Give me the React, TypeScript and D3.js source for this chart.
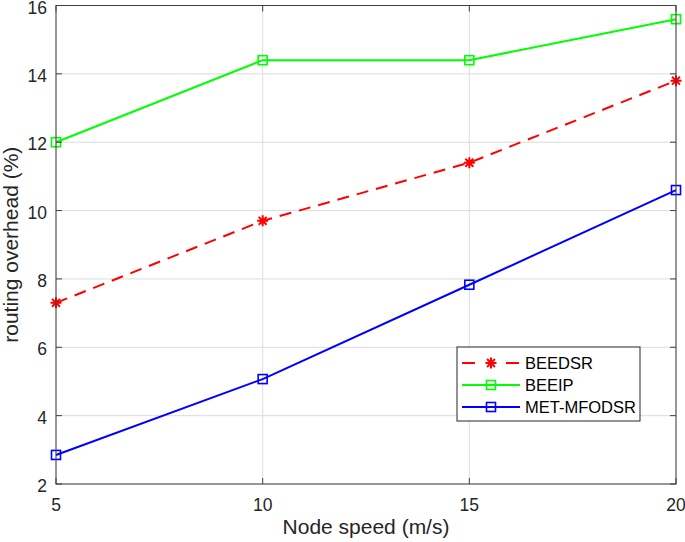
import React, { useEffect, useRef } from 'react';
import * as d3 from 'd3';

const speeds = [5, 10, 15, 20];
const beedsr = [7.3, 9.7, 11.4, 13.8];
const beeip = [12, 14.4, 14.4, 15.6];
const metMfodsr = [2.85, 5.07, 7.83, 10.6];
const xTicks = [5, 10, 15, 20];
const yTicks = [2, 4, 6, 8, 10, 12, 14, 16];

const series = [
  { name: 'BEEDSR', values: beedsr, color: '#ff0000', dash: '12,8', marker: 'star' },
  { name: 'BEEIP', values: beeip, color: '#00ff00', dash: null, marker: 'square' },
  { name: 'MET-MFODSR', values: metMfodsr, color: '#0000ff', dash: null, marker: 'square' },
];

const W = 685;
const H = 542;
const margin = { left: 56, right: 9, top: 5.5, bottom: 58 };

function drawMarker(g: any, kind: string, x: number, y: number, color: string) {
  if (kind === 'square') {
    g.append('rect')
      .attr('x', x - 4.5).attr('y', y - 4.5)
      .attr('width', 9).attr('height', 9)
      .attr('fill', 'none').attr('stroke', color).attr('stroke-width', 1.6);
  } else {
    const r = 5.5;
    const d = r * 0.72;
    const p = `M${x - r},${y}L${x + r},${y}M${x},${y - r}L${x},${y + r}` +
      `M${x - d},${y - d}L${x + d},${y + d}M${x - d},${y + d}L${x + d},${y - d}`;
    g.append('path').attr('d', p).attr('stroke', color).attr('stroke-width', 2).attr('fill', 'none');
  }
}

export default function App() {
  const ref = useRef<SVGSVGElement>(null);

  useEffect(() => {
    const svg = d3.select(ref.current);
    svg.selectAll('*').remove();

    const x = d3.scaleLinear().domain([5, 20]).range([margin.left, W - margin.right]);
    const y = d3.scaleLinear().domain([2, 16]).range([H - margin.bottom, margin.top]);
    const font = 'Liberation Sans, Arial, sans-serif';
    const axisColor = '#404040';

    svg.append('rect').attr('x', 0).attr('y', 0).attr('width', W).attr('height', H).attr('fill', '#fff');

    // grid
    const grid = svg.append('g');
    xTicks.forEach(t => {
      grid.append('line').attr('x1', x(t)).attr('x2', x(t))
        .attr('y1', y(2)).attr('y2', y(16)).attr('stroke', '#dcdcdc').attr('stroke-width', 1);
    });
    yTicks.forEach(t => {
      grid.append('line').attr('x1', x(5)).attr('x2', x(20))
        .attr('y1', y(t)).attr('y2', y(t)).attr('stroke', '#dcdcdc').attr('stroke-width', 1);
    });

    // series
    series.forEach(s => {
      const line = d3.line<number>().x((d, i) => x(speeds[i])).y(d => y(d));
      svg.append('path').datum(s.values).attr('d', line)
        .attr('fill', 'none').attr('stroke', s.color).attr('stroke-width', 2)
        .attr('stroke-dasharray', s.dash);
      const mg = svg.append('g');
      s.values.forEach((v, i) => drawMarker(mg, s.marker, x(speeds[i]), y(v), s.color));
    });

    // box and ticks
    const ax = svg.append('g');
    ax.append('rect').attr('x', x(5)).attr('y', y(16))
      .attr('width', x(20) - x(5)).attr('height', y(2) - y(16))
      .attr('fill', 'none').attr('stroke', axisColor).attr('stroke-width', 1);
    const tl = 6;
    yTicks.forEach(t => {
      ax.append('line').attr('x1', x(5)).attr('x2', x(5) + tl).attr('y1', y(t)).attr('y2', y(t)).attr('stroke', axisColor);
      ax.append('line').attr('x1', x(20)).attr('x2', x(20) - tl).attr('y1', y(t)).attr('y2', y(t)).attr('stroke', axisColor);
      ax.append('text').attr('x', x(5) - 9).attr('y', y(t)).attr('dy', '0.46em')
        .attr('text-anchor', 'end').attr('font-family', font).attr('font-size', 17.5).attr('fill', '#262626')
        .text(t);
    });
    xTicks.forEach(t => {
      ax.append('line').attr('x1', x(t)).attr('x2', x(t)).attr('y1', y(2)).attr('y2', y(2) - tl).attr('stroke', axisColor);
      ax.append('line').attr('x1', x(t)).attr('x2', x(t)).attr('y1', y(16)).attr('y2', y(16) + tl).attr('stroke', axisColor);
      ax.append('text').attr('x', x(t)).attr('y', y(2) + 20.5).attr('dy', '0.35em')
        .attr('text-anchor', 'middle').attr('font-family', font).attr('font-size', 17.5).attr('fill', '#262626')
        .text(t);
    });

    // axis titles
    svg.append('text').attr('x', (x(5) + x(20)) / 2).attr('y', 527).attr('dy', '0.35em')
      .attr('text-anchor', 'middle').attr('font-family', font).attr('font-size', 21).attr('fill', '#262626')
      .text('Node speed (m/s)');
    svg.append('text').attr('transform', `translate(11,${(y(2) + y(16)) / 2}) rotate(-90)`)
      .attr('dy', '0.35em').attr('text-anchor', 'middle').attr('font-family', font)
      .attr('font-size', 21).attr('fill', '#262626')
      .text('routing overhead (%)');

    // legend
    const lg = svg.append('g');
    lg.append('rect').attr('x', 457).attr('y', 347).attr('width', 183).attr('height', 74)
      .attr('fill', '#fff').attr('stroke', '#262626').attr('stroke-width', 1);
    series.forEach((s, i) => {
      const ly = 363 + i * 22;
      lg.append('line').attr('x1', 462).attr('x2', 520).attr('y1', ly).attr('y2', ly)
        .attr('stroke', s.color).attr('stroke-width', 2).attr('stroke-dasharray', s.dash ? '13,9' : null);
      if (s.dash) {
        lg.append('rect').attr('x', 480).attr('y', ly - 6).attr('width', 20).attr('height', 12).attr('fill', '#fff');
      }
      drawMarker(lg, s.marker, 491, ly, s.color);
      lg.append('text').attr('x', 525).attr('y', ly).attr('dy', '0.35em')
        .attr('font-family', font).attr('font-size', 16.5).attr('fill', '#000').text(s.name);
    });
  }, []);

  return <svg ref={ref} width={W} height={H} style={{ position: 'absolute', left: 0, top: 0, display: 'block' }} />;
}
